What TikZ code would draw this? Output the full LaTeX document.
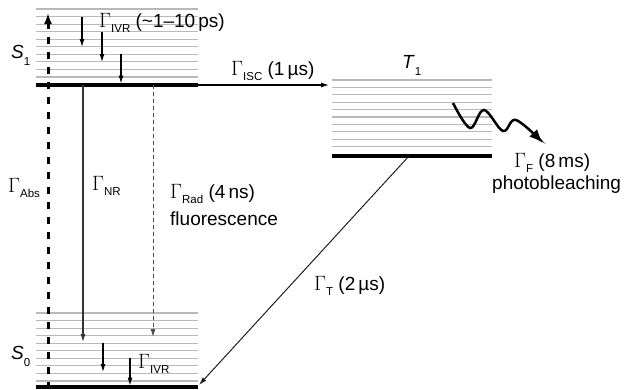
\documentclass[tikz,border=0pt]{standalone}
\usepackage{amsmath}
\usepackage{fontspec}
\setmainfont{Liberation Sans}
\usetikzlibrary{arrows.meta}

\newcommand{\G}{{\fontsize{20}{20}\selectfont$\Gamma$}}
\newcommand{\sub}[2][5pt]{\raisebox{-#1}{\fontsize{11.5}{11.5}\selectfont #2}}

\begin{document}
\begin{tikzpicture}[
    x=1pt, y=-1pt,
    font=\fontsize{19}{22}\selectfont,
    level/.style={draw=gray!55, line width=1.2pt},
    ground/.style={draw=black, line width=3.2pt},
    lbl/.style={inner sep=0pt, anchor=base west},
    arrow/.style={-{Latex[length=8pt, width=5pt]}, line width=1.1pt},
    absorb/.style={-{Latex[length=11pt, width=8pt]}, line width=3pt, dash pattern=on 7pt off 8pt},
    radiate/.style={-{Latex[length=8pt, width=5pt]}, line width=1pt, dash pattern=on 4pt off 3pt, draw=gray!60!black, fill=gray!60!black},
    decay/.style={-{Latex[length=8pt, width=5pt]}, line width=1pt, draw=gray!25!black},
    bleach/.style={-{Latex[length=14pt, width=11pt]}, line width=2.5pt}
]
    \useasboundingbox (0,0) rectangle (630,389);

    % Vibrational levels
    \foreach \i in {0,...,9} {
      \draw[level] (36, 9+7.55*\i) -- (198, 9+7.55*\i);
      \draw[level] (332, 80+7.4*\i) -- (492, 80+7.4*\i);
      \draw[level] (36, 313+7.55*\i) -- (198, 313+7.55*\i);
    }

    % Ground lines
    \coordinate (s1l) at (36,85);
    \coordinate (s1r) at (198,85);
    \coordinate (t1l) at (332,156);
    \coordinate (t1r) at (492,156);
    \coordinate (s0l) at (36,387);
    \coordinate (s0r) at (198,387);
    \draw[ground] (s1l) -- (s1r);
    \draw[ground] (t1l) -- (t1r);
    \draw[ground] (s0l) -- (s0r);

    % Labels
    \node[lbl] (s1lab) at (11,58) {\textit{S}\sub[7pt]{1}};
    \node[lbl] (s0lab) at (11,359) {\textit{S}\sub[7pt]{0}};
    \node[lbl] (t1lab) at (402,68) {\textit{T}\sub[7pt]{1}};
    \node[lbl] (givr1) at (99,27) {\G\sub{IVR} (\textasciitilde1--10\,ps)};
    \node[lbl] (gisc) at (231,75) {\G\sub{ISC} (1\,µs)};
    \node[lbl] (gabs) at (8,192) {\G\sub{Abs}};
    \node[lbl] (gnr) at (92,190) {\G\sub{NR}};
    \node[lbl] (grad) at (170,198) {\G\sub{Rad} (4\,ns)};
    \node[lbl] (fluor) at (170,225) {fluorescence};
    \node[lbl] (gf) at (514,167) {\G\sub{F} (8\,ms)};
    \node[lbl] (photo) at (492,189) {photobleaching};
    \node[lbl] (gt) at (314,290) {\G\sub{T} (2\,µs)};
    \node[lbl] (givr0) at (138,368) {\G\sub{IVR}};

    % Arrow ends
    \coordinate (absfoot) at (48,389);
    \coordinate (abstop) at (48,13);
    \coordinate (nrtop) at (83,85);
    \coordinate (nrend) at (83,342);
    \coordinate (radtop) at (153,85);
    \coordinate (radend) at (153,337);
    \coordinate (iscend) at (329,85);
    \coordinate (tdec) at (409,156);
    \coordinate (s0hit) at (199,385);
    \coordinate (wstart) at (453,103);

    % Arrows
    \draw[absorb] (absfoot) -- (abstop);
    \draw[arrow, draw=gray!40!black] (nrtop) -- (nrend);
    \draw[radiate] (radtop) -- (radend);
    \draw[arrow] (s1r) -- (iscend);
    \draw[decay] (tdec) -- (s0hit);

    % Relaxation steps
    \draw[arrow] (82,17) -- (82,47);
    \draw[arrow] (102,32) -- (102,62);
    \draw[arrow] (121,54) -- (121,83.5);
    \draw[arrow] (103,343) -- (103,372);
    \draw[arrow] (130,358) -- (130,385.5);

    % Photobleaching
    \draw[bleach] plot[smooth, tension=0.6] coordinates {(wstart) (470,128) (484,110) (503,131) (516,120) (543,143)};
\end{tikzpicture}
\end{document}
